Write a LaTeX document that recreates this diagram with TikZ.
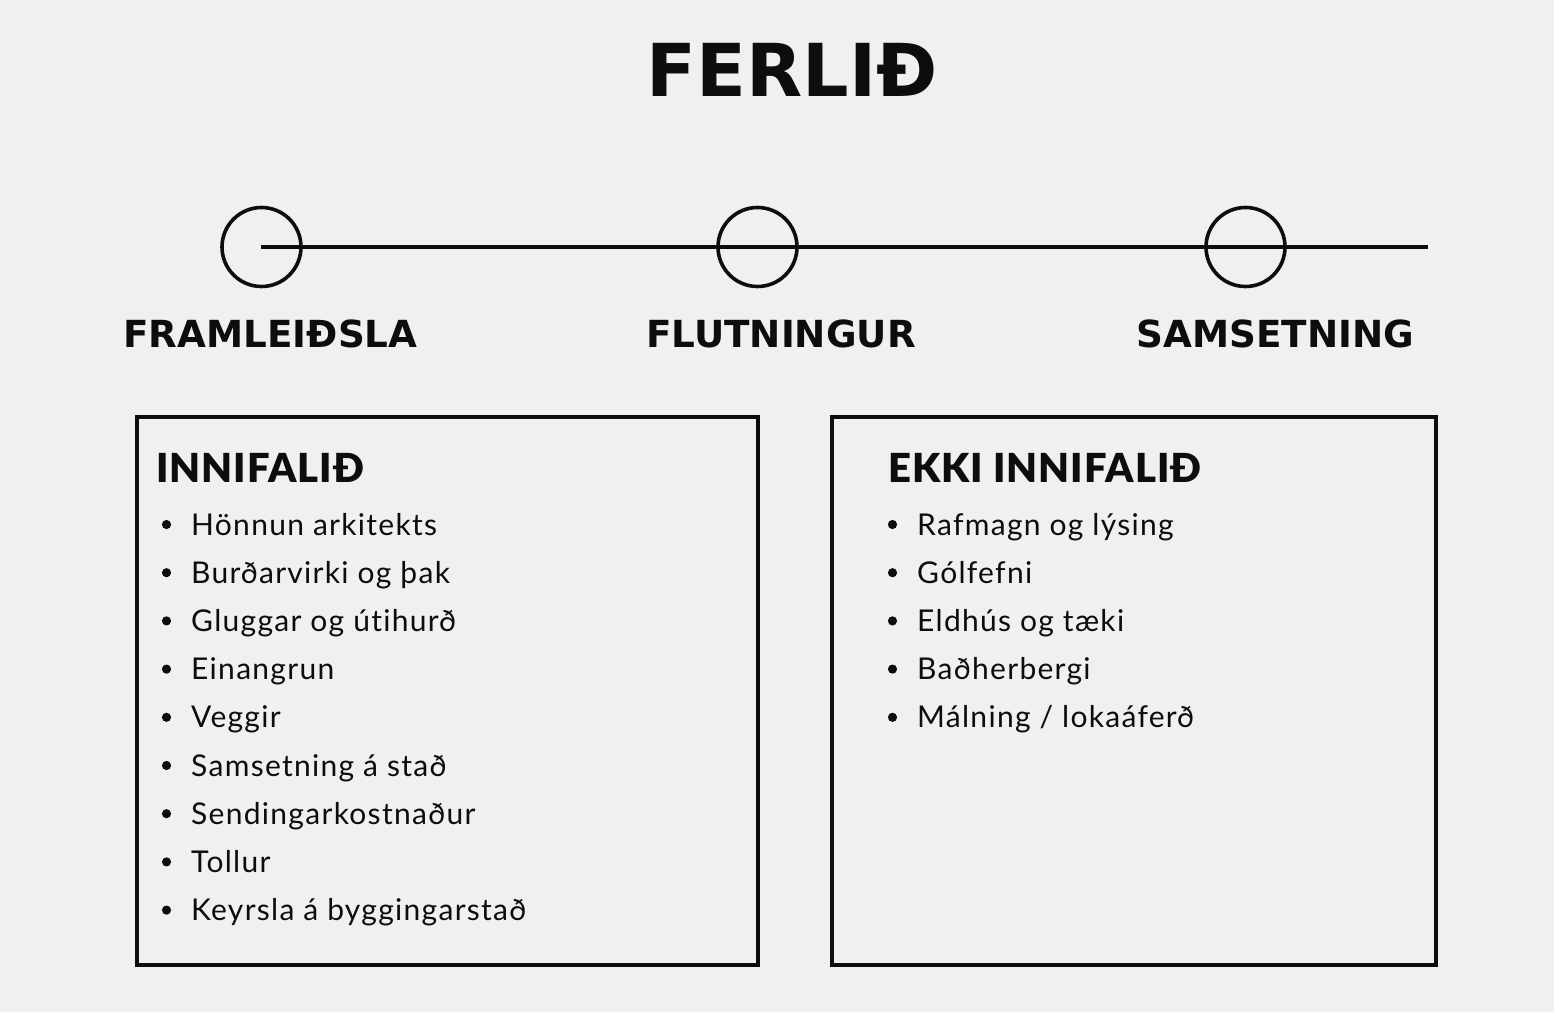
\documentclass[tikz,border=0pt]{standalone}
\usepackage{fontspec}
\setmainfont{Lato}[Ligatures=NoCommon,LetterSpace=4.3]
\newfontfamily\heavy{Lato Black}[LetterSpace=2.5]
\newfontfamily\dvs{DejaVu Sans}
\definecolor{bg}{HTML}{F0F0F0}
\definecolor{ink}{HTML}{0D0D0D}
\begin{document}
\begin{tikzpicture}[x=1pt,y=-1pt,
  title/.style={anchor=base,inner sep=0pt,font=\dvs\bfseries\fontsize{73}{80}\selectfont,text=ink},
  stage/.style={anchor=base,inner sep=0pt,font=\dvs\bfseries\fontsize{37.3}{44}\selectfont,text=ink},
  milestone/.style={circle,draw=ink,line width=3.6pt,minimum size=79pt,inner sep=0pt},
  panel/.style={draw=ink,line width=3.4pt},
  heading/.style={anchor=base west,inner sep=0pt,font=\heavy\fontsize{40}{46}\selectfont,text=ink},
  item/.style={anchor=base west,inner sep=0pt,font=\fontsize{30}{34}\selectfont,text=ink},
  dot/.style={fill=ink}]
\fill[bg] (0,0) rectangle (1554,1012);
\useasboundingbox (0,0) rectangle (1554,1012);
% title
\node[title] (ttl) at (792,96) {FERLIÐ};
% timeline
\coordinate (start) at (261,247);
\coordinate (end) at (1428,247);
\draw[ink,line width=4pt] (start) -- (end);
\node[milestone] (c1) at (261.5,247) {};
\node[milestone] (c2) at (757.5,247) {};
\node[milestone] (c3) at (1245.5,247) {};
\node[stage] (s1) at (270.5,347) {FRAMLEIÐSLA};
\node[stage] (s2) at (781,347) {FLUTNINGUR};
\node[stage] (s3) at (1275.5,347) {SAMSETNING};
% panels
\draw[panel] (137,417) rectangle (758,965);
\draw[panel] (832,417) rectangle (1436,965);
\node[heading] (h1) at (156,482) {INNIFALIÐ};
\node[heading] (h2) at (888,482) {EKKI INNIFALIÐ};
% left list
\foreach \t [count=\i from 0] in {Hönnun arkitekts,Burðarvirki og þak,Gluggar og útihurð,Einangrun,Veggir,Samsetning á stað,Sendingarkostnaður,Tollur,Keyrsla á byggingarstað}{
  \pgfmathsetmacro{\yy}{535+48.2*\i}
  \fill[dot] (166.5,\yy-10.5) circle (4.6);
  \node[item] (l\i) at (191,\yy) {\t};
}
% right list
\foreach \t [count=\i from 0] in {Rafmagn og lýsing,Gólfefni,Eldhús og tæki,Baðherbergi,Málning / lokaáferð}{
  \pgfmathsetmacro{\yy}{535+48.2*\i}
  \fill[dot] (892.5,\yy-10.5) circle (4.6);
  \node[item] (r\i) at (917,\yy) {\t};
}
\end{tikzpicture}
\end{document}
